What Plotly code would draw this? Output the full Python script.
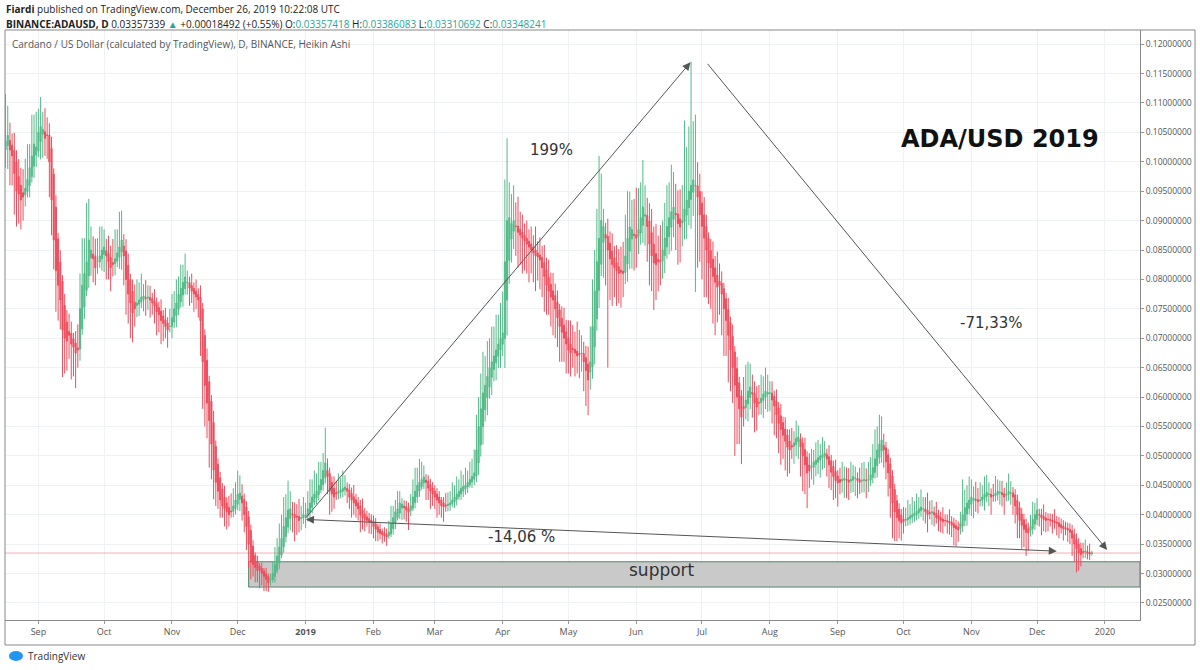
import pandas as pd
import plotly.graph_objects as go

# ADA/USD daily, Heikin Ashi, 2018-08-17 .. 2019-12-26 (US cents)
start_date = "2018-08-17"

ha_close = [
    10.35, 10.45, 10.2, 10.1, 9.8, 9.5, 9.45,
    9.35, 9.4, 9.55, 9.7, 9.9, 10.1, 10.3,
    10.25, 10.5, 10.6, 10.55, 10.4, 10.45, 10.0,
    9.35, 8.67, 8.15, 7.9, 7.65, 7.14, 7.0,
    6.95, 7.05, 6.9, 6.85, 6.75, 6.8, 7.5,
    7.9, 8.1, 8.3, 8.67, 8.5, 8.35, 8.2,
    8.3, 8.4, 8.5, 8.55, 8.4, 8.3, 8.2,
    8.25, 8.35, 8.45, 8.55, 8.67, 8.4, 8.0,
    7.75, 7.6, 7.43, 7.5, 7.6, 7.65, 7.7,
    7.72, 7.68, 7.7, 7.65, 7.6, 7.55, 7.45,
    7.4, 7.3, 7.25, 7.2, 7.14, 7.2, 7.35,
    7.5, 7.6, 7.75, 7.85, 7.95, 8.04, 7.95,
    7.85, 7.8, 7.75, 7.7, 7.65, 7.3, 6.6,
    6.2, 5.9, 5.6, 5.2, 4.76, 4.55, 4.4,
    4.25, 4.15, 4.1, 4.05, 4.0, 4.05, 4.15,
    4.25, 4.35, 4.37, 4.2, 4.0, 3.8, 3.5,
    3.2, 3.15, 3.1, 3.05, 3.05, 3.0, 2.95,
    2.9, 2.84, 2.9, 3.0, 3.15, 3.3, 3.45,
    3.6, 3.8, 3.95, 4.08, 4.1, 4.0, 3.95,
    3.96, 3.9, 3.95, 4.0, 4.0, 4.1, 4.2,
    4.3, 4.35, 4.4, 4.5, 4.6, 4.75, 4.88,
    4.65, 4.4, 4.35, 4.3, 4.35, 4.4, 4.42,
    4.45, 4.47, 4.4, 4.3, 4.25, 4.2, 4.15,
    4.1, 4.0, 3.95, 3.92, 3.9, 3.88, 3.87,
    3.8, 3.75, 3.7, 3.68, 3.66, 3.64, 3.62,
    3.7, 3.85, 3.95, 4.05, 4.1, 4.2, 4.18,
    4.12, 4.08, 4.04, 4.15, 4.3, 4.4, 4.5,
    4.55, 4.6, 4.64, 4.55, 4.45, 4.4, 4.35,
    4.3, 4.25, 4.2, 4.15, 4.13, 4.15, 4.18,
    4.2, 4.25, 4.3, 4.35, 4.4, 4.45, 4.48,
    4.5, 4.55, 4.6, 4.65, 4.71, 5.1, 5.5,
    5.8, 6.07, 6.2, 6.35, 6.5, 6.6, 6.7,
    6.8, 6.9, 7.0, 7.09, 8.3, 9.0, 9.05,
    8.95, 9.0, 8.9, 8.8, 8.75, 8.7, 8.65,
    8.6, 8.55, 8.5, 8.45, 8.4, 8.38, 8.33,
    8.2, 8.05, 7.9, 7.8, 7.7, 7.65, 7.5,
    7.35, 7.2, 7.1, 7.0, 6.9, 6.8, 6.75,
    6.8, 6.75, 6.7, 6.72, 6.75, 6.6, 6.45,
    6.29, 6.6, 7.2, 7.8, 8.3, 8.7, 9.0,
    8.9, 8.7, 8.5, 8.35, 8.25, 8.2, 8.15,
    8.1, 8.12, 8.1, 8.4, 8.7, 8.89, 8.85,
    8.75, 8.7, 8.85, 9.05, 9.23, 9.1, 8.9,
    8.6, 8.4, 8.28, 8.25, 8.3, 8.3, 8.5,
    8.7, 8.9, 9.05, 9.15, 9.23, 9.1, 8.95,
    8.89, 9.0, 9.2, 9.35, 9.5, 9.6, 9.69,
    9.6, 9.4, 9.1, 8.9, 8.7, 8.5, 8.28,
    8.2, 8.05, 7.95, 7.87, 7.9, 7.75, 7.5,
    7.3, 7.05, 6.8, 6.5, 6.2, 6.0, 5.8,
    5.66, 5.8, 5.95, 6.1, 6.17, 6.05, 5.9,
    5.83, 5.9, 5.98, 6.05, 6.1, 6.08, 6.07,
    5.95, 5.85, 5.7, 5.55, 5.45, 5.35, 5.25,
    5.15, 5.1, 5.15, 5.22, 5.3, 5.32, 5.15,
    5.0, 4.85, 4.71, 4.75, 4.82, 4.9, 4.93,
    4.97, 5.0, 5.02, 5.05, 4.95, 4.85, 4.72,
    4.65, 4.58, 4.54, 4.55, 4.6, 4.62, 4.58,
    4.55, 4.6, 4.65, 4.62, 4.58, 4.55, 4.58,
    4.6, 4.58, 4.6, 4.68, 4.8, 4.95, 5.1,
    5.2, 5.27, 5.1, 4.9, 4.71, 4.45, 4.2,
    4.05, 3.95, 3.9, 3.86, 3.88, 3.92, 3.95,
    3.98, 4.0, 4.03, 4.06, 4.1, 4.13, 4.1,
    4.05, 4.0, 4.02, 4.05, 4.0, 3.95, 3.92,
    3.9, 3.88, 3.9, 3.88, 3.86, 3.82, 3.78,
    3.76, 3.74, 3.85, 4.0, 4.12, 4.2, 4.25,
    4.3, 4.28, 4.25, 4.22, 4.25, 4.3, 4.35,
    4.38, 4.35, 4.3, 4.32, 4.36, 4.4, 4.38,
    4.34, 4.3, 4.35, 4.4, 4.37, 4.3, 4.15,
    4.0, 3.9, 3.82, 3.75, 3.7, 3.69, 3.8,
    3.92, 4.0, 4.08, 4.0, 3.95, 3.92, 3.9,
    3.92, 3.9, 3.88, 3.86, 3.85, 3.8, 3.78,
    3.76, 3.75, 3.74, 3.7, 3.6, 3.5, 3.42,
    3.35, 3.32, 3.36, 3.38, 3.34, 3.33, 3.348,
]

# shadow above / below the body, cents
wick_up = [
    0.8, 0.5, 0.3, 0.2, 0.3, 0.2, 0.3,
    0.3, 0.4, 0.5, 0.6, 0.4, 0.7, 0.5,
    0.6, 0.4, 0.5, 0.3, 0.4, 0.3, 0.2,
    0.2, 0.1, 0.2, 0.1, 0.2, 0.1, 0.2,
    0.2, 0.3, 0.2, 0.1, 0.2, 0.4, 0.6,
    0.8, 0.6, 1.0, 0.7, 0.4, 0.3, 0.3,
    0.4, 0.5, 0.4, 0.3, 0.2, 0.3, 0.2,
    0.4, 0.5, 0.4, 0.6, 0.5, 0.2, 0.2,
    0.2, 0.1, 0.2, 0.3, 0.4, 0.3, 0.4,
    0.2, 0.3, 0.2, 0.2, 0.1, 0.2, 0.1,
    0.1, 0.2, 0.1, 0.2, 0.1, 0.3, 0.4,
    0.3, 0.4, 0.3, 0.4, 0.3, 0.4, 0.2,
    0.1, 0.2, 0.1, 0.2, 0.1, 0.2, 0.1,
    0.1, 0.2, 0.1, 0.1, 0.2, 0.1, 0.1,
    0.1, 0.1, 0.2, 0.1, 0.2, 0.3, 0.3,
    0.3, 0.4, 0.3, 0.2, 0.1, 0.1, 0.1,
    0.1, 0.1, 0.05, 0.1, 0.05, 0.1, 0.05,
    0.1, 0.05, 0.1, 0.2, 0.3, 0.3, 0.4,
    0.4, 0.5, 0.4, 0.5, 0.3, 0.2, 0.2,
    0.2, 0.3, 0.2, 0.3, 0.2, 0.3, 0.4,
    0.3, 0.4, 0.3, 0.4, 0.3, 0.3, 0.6,
    0.2, 0.1, 0.1, 0.2, 0.2, 0.3, 0.2,
    0.3, 0.2, 0.1, 0.1, 0.1, 0.2, 0.1,
    0.1, 0.1, 0.2, 0.1, 0.1, 0.1, 0.1,
    0.1, 0.1, 0.05, 0.1, 0.05, 0.1, 0.1,
    0.2, 0.3, 0.2, 0.2, 0.3, 0.2, 0.1,
    0.1, 0.1, 0.1, 0.2, 0.3, 0.4, 0.3,
    0.4, 0.3, 0.2, 0.1, 0.1, 0.1, 0.1,
    0.1, 0.1, 0.1, 0.05, 0.1, 0.2, 0.2,
    0.2, 0.3, 0.2, 0.3, 0.2, 0.3, 0.2,
    0.3, 0.2, 0.3, 0.3, 0.4, 0.6, 0.5,
    0.6, 0.7, 0.5, 0.6, 0.5, 0.6, 0.5,
    0.6, 0.5, 0.6, 0.7, 1.4, 1.4, 0.6,
    0.5, 0.6, 0.4, 0.5, 0.3, 0.3, 0.2,
    0.3, 0.2, 0.3, 0.2, 0.4, 0.2, 0.3,
    0.2, 0.3, 0.2, 0.3, 0.2, 0.3, 0.2,
    0.2, 0.1, 0.2, 0.3, 0.2, 0.3, 0.4,
    0.4, 0.3, 0.5, 0.4, 0.3, 0.2, 0.2,
    0.3, 0.6, 0.8, 0.7, 0.9, 1.4, 0.8,
    0.3, 0.2, 0.3, 0.2, 0.3, 0.2, 0.3,
    0.3, 0.4, 0.5, 0.7, 0.8, 0.6, 0.5,
    0.6, 0.8, 0.7, 0.6, 0.8, 0.5, 0.3,
    0.3, 0.4, 0.3, 0.5, 0.4, 0.6, 0.5,
    0.6, 0.7, 0.6, 0.8, 0.6, 0.5, 0.4,
    0.5, 0.6, 1.5, 0.9, 1.1, 2.1, 1.0,
    1.2, 0.4, 0.3, 0.2, 0.3, 0.2, 0.1,
    0.2, 0.3, 0.2, 0.4, 0.3, 0.2, 0.1,
    0.1, 0.2, 0.1, 0.2, 0.1, 0.2, 0.1,
    0.1, 0.5, 0.6, 0.5, 0.4, 0.3, 0.2,
    0.2, 0.3, 0.4, 0.3, 0.4, 0.3, 0.2,
    0.2, 0.1, 0.2, 0.1, 0.2, 0.1, 0.2,
    0.1, 0.2, 0.3, 0.2, 0.3, 0.2, 0.1,
    0.1, 0.2, 0.1, 0.2, 0.3, 0.2, 0.3,
    0.3, 0.2, 0.3, 0.2, 0.1, 0.2, 0.1,
    0.1, 0.2, 0.1, 0.2, 0.3, 0.2, 0.2,
    0.2, 0.3, 0.2, 0.2, 0.1, 0.2, 0.3,
    0.3, 0.2, 0.3, 0.3, 0.4, 0.5, 0.4,
    0.5, 0.4, 0.2, 0.1, 0.1, 0.1, 0.1,
    0.1, 0.1, 0.1, 0.1, 0.2, 0.2, 0.3,
    0.2, 0.3, 0.2, 0.3, 0.2, 0.3, 0.2,
    0.2, 0.3, 0.2, 0.2, 0.1, 0.2, 0.1,
    0.1, 0.2, 0.1, 0.1, 0.2, 0.1, 0.1,
    0.1, 0.1, 0.2, 0.6, 0.3, 0.3, 0.4,
    0.3, 0.2, 0.3, 0.2, 0.3, 0.2, 0.3,
    0.3, 0.2, 0.1, 0.2, 0.3, 0.2, 0.2,
    0.2, 0.1, 0.2, 0.3, 0.2, 0.1, 0.1,
    0.1, 0.1, 0.1, 0.1, 0.1, 0.1, 0.2,
    0.3, 0.2, 0.2, 0.1, 0.1, 0.2, 0.1,
    0.1, 0.1, 0.1, 0.2, 0.1, 0.1, 0.1,
    0.1, 0.1, 0.1, 0.1, 0.1, 0.1, 0.1,
    0.1, 0.1, 0.15, 0.2, 0.1, 0.15, 0.04,
]

wick_dn = [
    0.3, 0.4, 0.6, 0.5, 0.7, 0.6, 0.5,
    0.5, 0.4, 0.2, 0.1, 0.2, 0.1, 0.2,
    0.2, 0.1, 0.3, 0.4, 0.3, 0.4, 0.6,
    0.6, 0.5, 0.7, 0.6, 0.5, 0.8, 0.6,
    0.5, 0.4, 0.6, 0.5, 0.6, 0.3, 0.2,
    0.1, 0.2, 0.1, 0.2, 0.3, 0.4, 0.3,
    0.2, 0.1, 0.2, 0.3, 0.4, 0.3, 0.4,
    0.2, 0.2, 0.1, 0.2, 0.3, 0.5, 0.6,
    0.5, 0.6, 0.5, 0.3, 0.2, 0.2, 0.1,
    0.2, 0.3, 0.2, 0.3, 0.2, 0.3, 0.4,
    0.3, 0.4, 0.3, 0.2, 0.3, 0.1, 0.2,
    0.1, 0.2, 0.1, 0.1, 0.2, 0.1, 0.2,
    0.3, 0.2, 0.3, 0.2, 0.3, 0.6, 0.8,
    0.7, 0.6, 0.8, 0.6, 0.5, 0.4, 0.3,
    0.3, 0.2, 0.3, 0.3, 0.2, 0.1, 0.1,
    0.1, 0.1, 0.2, 0.3, 0.3, 0.4, 0.4,
    0.3, 0.2, 0.25, 0.2, 0.3, 0.2, 0.25,
    0.2, 0.15, 0.1, 0.05, 0.1, 0.05, 0.1,
    0.05, 0.1, 0.1, 0.1, 0.2, 0.3, 0.4,
    0.3, 0.2, 0.2, 0.1, 0.2, 0.1, 0.1,
    0.1, 0.05, 0.1, 0.1, 0.05, 0.1, 0.1,
    0.3, 0.4, 0.3, 0.2, 0.1, 0.1, 0.1,
    0.1, 0.1, 0.2, 0.2, 0.3, 0.2, 0.2,
    0.2, 0.3, 0.2, 0.2, 0.1, 0.2, 0.2,
    0.2, 0.2, 0.15, 0.1, 0.15, 0.1, 0.15,
    0.05, 0.05, 0.1, 0.1, 0.05, 0.1, 0.2,
    0.2, 0.2, 0.3, 0.1, 0.05, 0.1, 0.1,
    0.1, 0.05, 0.1, 0.3, 0.2, 0.3, 0.2,
    0.2, 0.3, 0.2, 0.2, 0.25, 0.1, 0.1,
    0.1, 0.05, 0.1, 0.1, 0.05, 0.1, 0.1,
    0.1, 0.1, 0.05, 0.1, 0.1, 0.1, 0.2,
    0.2, 0.3, 0.2, 0.3, 0.2, 0.3, 0.2,
    0.3, 0.2, 0.3, 0.2, 0.5, 0.6, 0.4,
    0.4, 0.3, 0.5, 0.6, 0.5, 0.6, 0.5,
    0.5, 0.6, 0.4, 0.5, 0.6, 0.4, 0.5,
    0.5, 0.6, 0.5, 0.4, 0.5, 0.6, 0.5,
    0.5, 0.6, 0.5, 0.4, 0.5, 0.4, 0.4,
    0.3, 0.4, 0.3, 0.4, 0.3, 0.5, 0.6,
    0.6, 0.3, 0.2, 0.3, 0.2, 0.3, 0.2,
    0.6, 0.8, 2.0, 0.7, 0.7, 0.5, 0.6,
    0.5, 0.6, 0.4, 0.2, 0.3, 0.3, 0.5,
    0.6, 0.5, 0.3, 0.2, 0.3, 0.5, 0.6,
    0.7, 0.6, 0.8, 0.6, 0.5, 0.4, 0.3,
    0.3, 0.2, 0.3, 0.4, 0.3, 0.6, 0.7,
    0.6, 0.4, 0.3, 0.4, 0.3, 0.5, 0.4,
    1.8, 1.2, 0.8, 0.9, 1.0, 0.8, 0.7,
    0.7, 0.8, 0.9, 0.6, 0.5, 0.7, 0.8,
    0.6, 0.8, 0.7, 0.6, 1.2, 0.8, 0.6,
    0.8, 0.3, 0.2, 0.3, 0.2, 0.4, 0.5,
    0.4, 0.2, 0.2, 0.3, 0.2, 0.3, 0.3,
    0.4, 0.5, 0.4, 0.5, 0.6, 0.4, 0.5,
    0.5, 0.4, 0.2, 0.3, 0.2, 0.3, 0.5,
    0.6, 0.5, 0.6, 0.3, 0.2, 0.3, 0.2,
    0.2, 0.3, 0.2, 0.2, 0.3, 0.4, 0.3,
    0.4, 0.3, 0.4, 0.2, 0.2, 0.3, 0.3,
    0.3, 0.2, 0.2, 0.3, 0.3, 0.2, 0.2,
    0.2, 0.3, 0.2, 0.1, 0.1, 0.1, 0.2,
    0.1, 0.2, 0.3, 0.3, 0.4, 0.5, 0.6,
    0.5, 0.4, 0.3, 0.3, 0.2, 0.1, 0.1,
    0.1, 0.1, 0.1, 0.1, 0.1, 0.1, 0.2,
    0.2, 0.3, 0.1, 0.2, 0.2, 0.1, 0.2,
    0.2, 0.2, 0.1, 0.2, 0.2, 0.2, 0.3,
    0.3, 0.2, 0.1, 0.1, 0.1, 0.2, 0.1,
    0.2, 0.3, 0.2, 0.2, 0.1, 0.1, 0.2,
    0.1, 0.2, 0.3, 0.1, 0.1, 0.1, 0.2,
    0.2, 0.3, 0.1, 0.1, 0.2, 0.3, 0.3,
    0.4, 0.3, 0.4, 0.3, 0.4, 0.3, 0.1,
    0.1, 0.1, 0.1, 0.2, 0.3, 0.2, 0.2,
    0.2, 0.1, 0.2, 0.1, 0.2, 0.2, 0.1,
    0.2, 0.1, 0.2, 0.2, 0.3, 0.3, 0.4,
    0.3, 0.2, 0.1, 0.1, 0.1, 0.1, 0.04,
]
first_open = 10.2

month_ticks = ["2018-09-01", "2018-10-01", "2018-11-01", "2018-12-01", "2019-01-01",
               "2019-02-01", "2019-03-01", "2019-04-01", "2019-05-01", "2019-06-01",
               "2019-07-01", "2019-08-01", "2019-09-01", "2019-10-01", "2019-11-01",
               "2019-12-01", "2020-01-01"]
month_labels = ["Sep", "Oct", "Nov", "Dec", "<b>2019</b>", "Feb", "Mar", "Apr", "May", "Jun",
                "Jul", "Aug", "Sep", "Oct", "Nov", "Dec", "2020"]

last_price = 0.03348241
support_low, support_high = 0.0277, 0.0320

# heikin ashi open from previous candle
ha_open = [first_open]
for i in range(1, len(ha_close)):
    ha_open.append((ha_open[-1] + ha_close[i - 1]) / 2)

dates = pd.date_range(start_date, periods=len(ha_close), freq="D")
df = pd.DataFrame({"date": dates, "open": ha_open, "close": ha_close,
                   "up": wick_up, "dn": wick_dn})
df["high"] = df[["open", "close"]].max(axis=1) + df["up"]
df["low"] = df[["open", "close"]].min(axis=1) - df["dn"]
for c in ["open", "close", "high", "low"]:
    df[c] = df[c] / 100.0  # cents -> USD

GREEN = "#53b987"
RED = "#eb4d5c"
GRID = "#eef1f6"
TXT = "#333333"

fig = go.Figure()
fig.add_trace(go.Candlestick(
    x=df["date"], open=df["open"], high=df["high"], low=df["low"], close=df["close"],
    increasing=dict(line=dict(color=GREEN, width=1), fillcolor=GREEN),
    decreasing=dict(line=dict(color=RED, width=1), fillcolor=RED),
    whiskerwidth=0, showlegend=False, hoverinfo="skip",
))

# support zone (over the grid, under the candles) + last price line
fig.add_shape(type="rect", xref="x", yref="y", x0="2018-12-06", x1="2020-01-17",
              y0=support_low, y1=support_high, fillcolor="#c9c9c9",
              line=dict(color="#4f8a6a", width=1), layer="between")
fig.add_shape(type="line", xref="paper", yref="y", x0=0, x1=1, y0=last_price, y1=last_price,
              line=dict(color="rgba(235,77,92,0.45)", width=1))

arrow = dict(showarrow=True, arrowhead=2, arrowsize=1.6, arrowwidth=1, arrowcolor="#555555",
             xref="x", yref="y", axref="x", ayref="y", text="")
fig.add_annotation(x="2019-06-25 18:00", y=0.1169, ax="2018-12-31 12:00", ay=0.0392, **arrow)
fig.add_annotation(x="2020-01-02", y=0.0340, ax="2019-07-03", ay=0.1169, **arrow)
fig.add_annotation(x="2019-12-10", y=0.0338, ax="2018-12-31 12:00", ay=0.0392,
                   arrowside="end+start", **arrow)

def px_text(txt, x, y, size, bold=False, color=TXT, family="DejaVu Sans"):
    fig.add_annotation(x=(x - 5) / 1135, y=(620 - y) / 590, xref="paper", yref="paper",
                       xanchor="center", yanchor="middle",
                       text=f"<b>{txt}</b>" if bold else txt, showarrow=False,
                       font=dict(size=size, color=color, family=family))

px_text("199%", 551, 150, 15)
px_text("-71,33%", 991, 323, 15)
px_text("-14,06 %", 521, 537, 15)
px_text("ADA/USD 2019", 1000, 139, 24, bold=True, color="#111111")
px_text("support", 662, 570, 17)

def px_left(txt, x, y, size, color="#222222"):
    fig.add_annotation(x=(x - 5) / 1135, y=(620 - y) / 590, xref="paper", yref="paper",
                       xanchor="left", yanchor="middle", showarrow=False, align="left",
                       text=txt, font=dict(size=size, color=color, family="Open Sans"))

# header lines
teal = "#26a69a"
px_left("<b>Fiardi</b> published on TradingView.com, December 26, 2019 10:22:08 UTC", 4, 9, 10)
px_left(("<b>BINANCE:ADAUSD, D</b> 0.03357339 <span style='color:%s'>▲</span> "
         "+0.00018492 (+0.55%%) O:<span style='color:%s'>0.03357418</span> "
         "H:<span style='color:%s'>0.03386083</span> L:<span style='color:%s'>0.03310692</span> "
         "C:<span style='color:%s'>0.03348241</span>") % (teal, teal, teal, teal, teal), 4, 24, 10)
px_left("Cardano / US Dollar (calculated by TradingView), D, BINANCE, Heikin Ashi", 10, 44, 10,
        color="#555555")
px_left("TradingView", 26, 656, 10, color="#333333")
fig.add_shape(type="circle", xref="paper", yref="paper", x0=(9 - 5) / 1135, x1=(23 - 5) / 1135,
              y0=(620 - 661) / 590, y1=(620 - 651) / 590, fillcolor="#2196f3", line_width=0)

# outer frame
fig.add_shape(type="rect", xref="paper", yref="paper", x0=0, x1=1190 / 1135,
              y0=(620 - 645) / 590, y1=1, line=dict(color="#888888", width=1))

fig.update_layout(
    width=1200, height=670,
    margin=dict(l=5, r=60, t=30, b=50),
    paper_bgcolor="white", plot_bgcolor="white",
    font=dict(family="Open Sans", size=9, color="#555555"),
    xaxis=dict(
        range=["2018-08-16 18:00", "2020-01-17"], rangeslider=dict(visible=False),
        tickvals=month_ticks, ticktext=month_labels, showgrid=True, gridcolor=GRID,
        showline=True, linecolor="#888888", ticks="outside", ticklen=3, tickcolor="#999999",
        tickfont=dict(size=9, color="#555555"), zeroline=False,
    ),
    yaxis=dict(
        side="right", range=[0.0221, 0.1224], dtick=0.005, tick0=0, tickformat=".8f",
        showgrid=True, gridcolor=GRID, showline=True, linecolor="#888888", mirror=False,
        ticks="outside", ticklen=3, tickcolor="#999999", zeroline=False,
        tickfont=dict(size=8.5, color="#555555"),
    ),
)

# page has a default body margin, drop it so the figure sits at 0,0
fig.write_html("out.html", config={"displayModeBar": False},
               post_script="document.body.style.margin='0';")
